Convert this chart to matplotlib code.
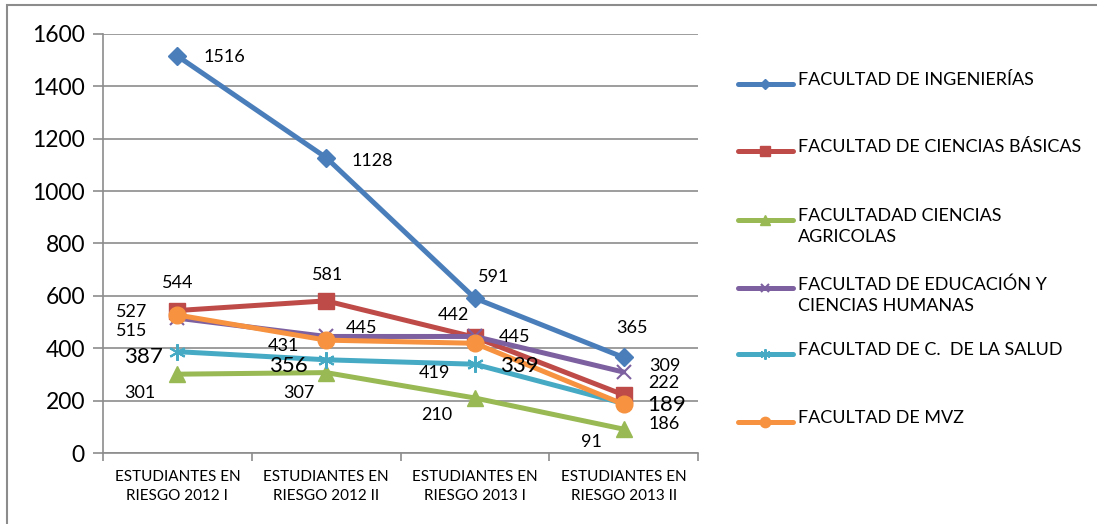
import matplotlib.pyplot as plt
from matplotlib.lines import Line2D
from matplotlib.patches import Rectangle

# datos del grafico
periodos = ["ESTUDIANTES EN\nRIESGO 2012 I", "ESTUDIANTES EN\nRIESGO 2012 II",
            "ESTUDIANTES EN\nRIESGO 2013 I", "ESTUDIANTES EN\nRIESGO 2013 II"]
ingenierias = [1516, 1128, 591, 365]
ciencias_basicas = [544, 581, 442, 222]
agricolas = [301, 307, 210, 91]
educacion = [515, 445, 445, 309]
salud = [387, 356, 339, 189]
mvz = [527, 431, 419, 186]

nombres = ["FACULTAD DE INGENIERÍAS", "FACULTAD DE CIENCIAS BÁSICAS",
           "FACULTADAD CIENCIAS\nAGRICOLAS", "FACULTAD DE EDUCACIÓN Y\nCIENCIAS HUMANAS",
           "FACULTAD DE C.  DE LA SALUD", "FACULTAD DE MVZ"]
series = [ingenierias, ciencias_basicas, agricolas, educacion, salud, mvz]

# estilo de cada serie
colores = ["#4A7EBB", "#BE4B48", "#98B954", "#7D60A0", "#46AAC5", "#F69240"]
marcadores = ["D", "s", "^", "x", (6, 2, 0), "o"]
tam_marc = [9, 11, 12, 10, 12, 12]

# desplazamiento de las etiquetas (pixeles, x derecha / y abajo)
offsets = [
    [(47, 1), (46, 3), (19, -21), (8, -29)],
    [(0, -28), (1, -26), (-21, -22), (40, -12)],
    [(-38, 19), (-27, 20), (-38, 17), (-32, 13)],
    [(-46, 13), (35, -8), (40, 1), (41, -6)],
    [(-34, 5), (-38, 6), (44, 2), (43, 1)],
    [(-46, -3), (-43, 6), (-40, 30), (41, 20)],
]
tam_etiq = [13, 13, 13, 13, 16, 13]

plt.rcParams['font.family'] = ['Lato', 'DejaVu Sans']

fig = plt.figure(figsize=(10.97, 5.24), dpi=100)
ax = fig.add_axes([103 / 1097, 71 / 524, 595 / 1097, 419 / 524])

x = list(range(len(periodos)))
for i, vals in enumerate(series):
    ax.plot(x, vals, color=colores[i], lw=3.6, marker=marcadores[i],
            markersize=tam_marc[i], markeredgewidth=1.5 if i in (3, 4) else 1,
            markeredgecolor=colores[i], zorder=3 + i, solid_capstyle='round')
    for j, v in enumerate(vals):
        dx, dy = offsets[i][j]
        ax.annotate(str(v), (j, v), xytext=(dx, -dy), textcoords='offset pixels',
                    ha='center', va='center', fontsize=tam_etiq[i], zorder=20)

ax.set_xlim(-0.5, 3.5)
ax.set_ylim(0, 1600)
ax.set_yticks(range(0, 1601, 200))
ax.yaxis.grid(True, color='#8C8C8C', lw=1.2)
ax.set_axisbelow(True)
for s in ['top', 'right']:
    ax.spines[s].set_visible(False)
for s in ['left', 'bottom']:
    ax.spines[s].set_color('#8C8C8C')
    ax.spines[s].set_linewidth(1.2)
ax.set_xticks([-0.5, 0.5, 1.5, 2.5, 3.5])
ax.set_xticklabels([])
ax.set_xticks(x, minor=True)
ax.set_xticklabels(periodos, minor=True, fontsize=11, linespacing=1.45)
ax.tick_params(axis='x', which='major', length=6, color='#8C8C8C', width=1.2)
ax.tick_params(axis='x', which='minor', length=0, pad=12)
ax.tick_params(axis='y', length=7, color='#8C8C8C', width=1.2, labelsize=16.5, pad=6)

# leyenda dibujada a mano
ley_y = [84, 151, 220, 288, 354, 422]
for i, nom in enumerate(nombres):
    yf = 1 - ley_y[i] / 524
    fig.add_artist(Line2D([738 / 1097, 793 / 1097], [yf, yf], color=colores[i], lw=3.6,
                          solid_capstyle='round'))
    fig.add_artist(Line2D([765 / 1097], [yf], color=colores[i], marker=marcadores[i],
                          markersize=tam_marc[i] * 0.62, markeredgecolor=colores[i],
                          markeredgewidth=1.5 if i in (3, 4) else 1))
    fig.text(798 / 1097, yf + 12 / 524, nom, ha='left', va='top', fontsize=13,
             linespacing=1.4)

# marco exterior
fig.add_artist(Rectangle((7 / 1097, -0.1), 1.2, 1.1 - 5 / 524, fill=False,
                         edgecolor='#8C8C8C', lw=1.5, transform=fig.transFigure))

fig.savefig("out.png", dpi=100)
